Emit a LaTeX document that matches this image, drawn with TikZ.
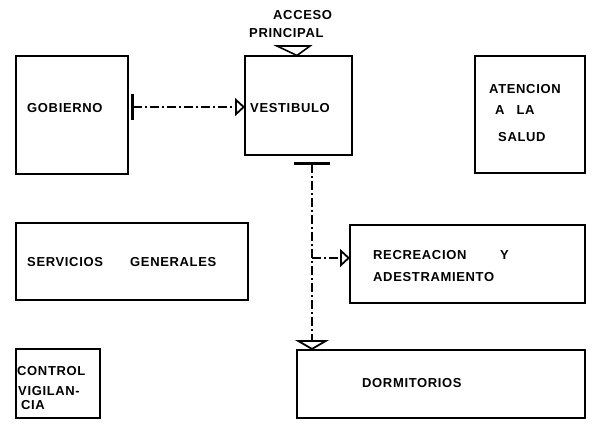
\documentclass[tikz,border=0pt]{standalone}
\usepackage{fontspec}
\setmainfont{Liberation Sans}
\newfontfamily\lblfont[LetterSpace=5]{Liberation Sans}
\usetikzlibrary{arrows.meta}
\begin{document}
\begin{tikzpicture}[x=1pt,y=-1pt,
  box/.style={draw, line width=1.5pt, inner sep=0pt, outer sep=0pt},
  edge/.style={line width=2.8pt},
  lbl/.style={font=\lblfont\bfseries\fontsize{13}{15}\selectfont, inner sep=0pt, anchor=west},
  conn/.style={line width=1.3pt, dash pattern=on 9pt off 3pt on 2pt off 3pt},
  smallopen/.tip={Triangle[open, length=10pt, width=18pt, line width=1.8pt]},
  wideopen/.tip={Triangle[open, length=10pt, width=34pt, line width=1.8pt]},
  shortbar/.tip={Bar[width=26pt, line width=2.8pt]},
  longbar/.tip={Bar[width=36pt, line width=2.8pt]}
]
\useasboundingbox (0,0) rectangle (596,423);

% boxes
\node[box, minimum width=112pt, minimum height=118pt] (gob)  at (72,115)    {};
\node[box, minimum width=107pt, minimum height=99pt]  (vest) at (298.5,105.5) {};
\node[box, minimum width=110pt, minimum height=117pt] (aten) at (530,114.5) {};
\node[box, minimum width=232pt, minimum height=77pt]  (serv) at (132,261.5) {};
\node[box, minimum width=235pt, minimum height=78pt]  (recr) at (467.5,264) {};
\node[box, minimum width=84pt,  minimum height=69pt]  (ctrl) at (58,383.5)  {};
\node[box, minimum width=288pt, minimum height=68pt]  (dorm) at (441,384)   {};

% heavier right edges
\draw[edge] (gob.north east) -- (gob.south east);
\draw[edge] (aten.north east) -- (aten.south east);
\draw[edge] (serv.north east) -- (serv.south east);
\draw[edge] (recr.north east) -- (recr.south east);
\draw[edge] (dorm.north east) -- (dorm.south east);

% labels
\node[lbl] (tgob)  at (27,108)  {GOBIERNO};
\node[lbl] (tvest) at (250,108) {VESTIBULO};
\node[lbl] (tat1)  at (489,89)  {ATENCION};
\node[lbl] (tat2)  at (495,110) {A\hspace{12pt}LA};
\node[lbl] (tat3)  at (498,137) {SALUD};
\node[lbl] (tser1) at (27,262)  {SERVICIOS};
\node[lbl] (tser2) at (130,262) {GENERALES};
\node[lbl] (trec1) at (373,255) {RECREACION};
\node[lbl] (trec2) at (500,255) {Y};
\node[lbl] (trec3) at (373,277) {ADESTRAMIENTO};
\node[lbl] (tdorm) at (362,383) {DORMITORIOS};
\node[lbl] (tctl1) at (17,371)  {CONTROL};
\node[lbl] (tctl2) at (18,391)  {VIGILAN-};
\node[lbl] (tctl3) at (21,405)  {CIA};
\node[lbl] (tacc1) at (273,15)  {ACCESO};
\node[lbl] (tacc2) at (249,33)  {PRINCIPAL};

% main entrance triangle
\draw[line width=1.6pt] (277,46) -- (310,46) -- (297,55.5) -- cycle;

% connectors
\coordinate (hl) at (131,107);
\draw[conn, shortbar-smallopen] (hl) -- (hl -| vest.west);
\coordinate (vtop) at (312,162);
\draw[conn, longbar-wideopen] (vtop) -- (vtop |- dorm.north);
\coordinate (br) at (312,258);
\draw[conn, -smallopen] (br) -- (br -| recr.west);
\end{tikzpicture}
\end{document}
